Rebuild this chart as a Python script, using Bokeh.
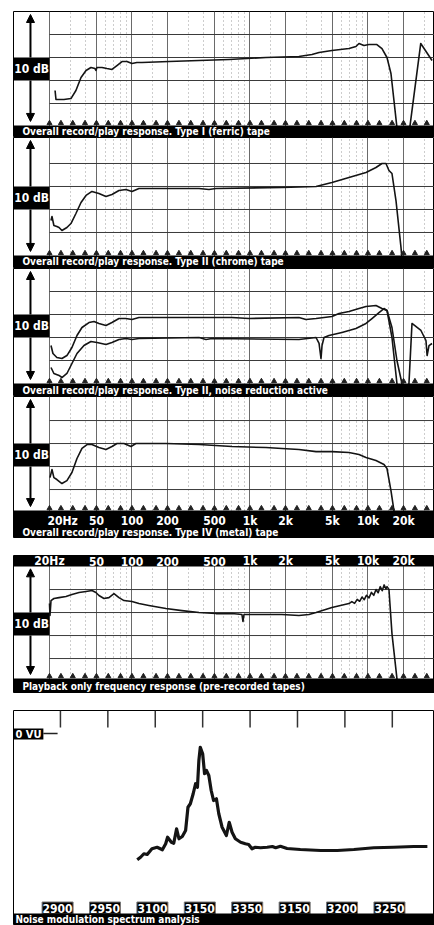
from bokeh.plotting import figure
from bokeh.models import (Range1d, Grid, FixedTicker, BoxAnnotation, Label, Arrow,
                          NormalHead, ColumnDataSource, Spacer)
from bokeh.layouts import column
from bokeh.transform import dodge
from bokeh.core.properties import value
from bokeh.embed import file_html
from bokeh.resources import INLINE

# ---------------- data ----------------
FREQ_TICKS = [20, 50, 100, 200, 500, 1000, 2000, 5000, 10000, 20000]
FREQ_LABELS = ["20Hz", "50", "100", "200", "500", "1k", "2k", "5k", "10k", "20k"]
FREQ_MINOR = [30, 40, 60, 70, 80, 90, 150, 300, 400, 600, 700, 800, 900, 1500,
              3000, 4000, 6000, 7000, 8000, 9000, 15000, 30000]
THIRD_OCTAVE = [20, 25, 31.5, 40, 50, 63, 80, 100, 125, 160, 200, 250, 315, 400, 500,
                630, 800, 1000, 1250, 1600, 2000, 2500, 3150, 4000, 5000, 6300, 8000,
                10000, 12500, 16000, 20000, 25000, 31500]
DB_GRID = [2, 0, -2, -4]
SCALE_LABEL = "10 dB"

CAPTIONS = [
    "Overall record/play response. Type I (ferric) tape",
    "Overall record/play response. Type II (chrome) tape",
    "Overall record/play response. Type II, noise reduction active",
    "Overall record/play response. Type IV (metal) tape",
    "Playback only frequency response (pre-recorded tapes)",
    "Noise modulation spectrum analysis",
]

# Type I (ferric)
f1 = [22.3, 22.7, 24.1, 26.5, 30.4, 33.5, 37.0, 40.8, 44.9, 48.6, 49.5, 50.5, 55.7, 61.4,
      67.7, 74.6, 82.3, 90.7, 100, 110, 121.5, 206, 370, 664, 1366, 2600, 3350, 3850, 4950,
      6900, 7910, 8390, 9250, 10190, 11900, 13140, 14490, 15660, 16600, 17600, 19800,
      22600, 28000, 34900]
db1 = [-2.87, -3.65, -3.65, -3.65, -3.57, -2.87, -1.74, -1.13, -0.87, -0.96, -1.13, -0.87,
       -0.87, -0.96, -1.04, -0.70, -0.35, -0.35, -0.52, -0.43, -0.43, -0.35, -0.26, -0.17,
       0.0, 0.09, 0.26, 0.43, 0.61, 0.78, 0.96, 1.22, 1.04, 1.13, 1.13, 0.78, 0.0, -1.39,
       -3.74, -6.1, -12.0, -6.1, 1.22, -0.26]

# Type II (chrome)
f2 = [20.6, 21.0, 21.8, 23.1, 24.1, 25.5, 28.1, 30.4, 33.5, 37.0, 40.8, 45.8, 52.5, 60.2,
      67.7, 77.6, 88.9, 100, 114.6, 370, 449, 515, 1867, 3630, 4950, 6900, 9620, 11690,
      13140, 14210, 15060, 15970, 17270, 19040, 19800, 21000]
db2 = [-2.96, -2.61, -3.39, -3.48, -3.57, -3.83, -3.57, -3.22, -2.35, -1.39, -0.78, -0.43,
       -0.61, -0.87, -0.70, -0.35, -0.26, -0.43, -0.17, -0.17, -0.26, -0.17, -0.09, 0.0,
       0.35, 0.78, 1.22, 1.65, 2.0, 2.0, 1.39, 1.13, -1.22, -5.3, -7.3, -12.0]

# Type II, noise reduction active (two traces)
f3a = [20.6, 21.4, 23.1, 25.5, 28.1, 31.0, 34.2, 37.7, 43.2, 47.7, 52.5, 60.2, 67.7, 77.6,
       88.9, 100, 114.6, 704, 981, 2600, 2980, 3630, 4950, 5680, 6900, 8390, 9620, 11690,
       13140, 14490, 15970, 17600, 19040, 20000]
db3a = [-2.70, -3.39, -3.74, -3.83, -3.57, -2.87, -1.83, -1.13, -0.70, -0.61, -0.78, -0.96,
        -0.70, -0.35, -0.35, -0.43, -0.26, -0.26, -0.35, -0.26, -0.43, -0.35, -0.17, 0.09,
        0.26, 0.52, 0.70, 0.78, 0.52, 0.35, -2.0, -6.0, -9.2, -12.0]
f3b = [20.6, 21.8, 24.1, 25.5, 28.1, 31.0, 34.2, 39.2, 44.9, 50.5, 60.2, 67.7, 77.6, 88.9,
       100, 114.6, 370, 424, 476, 2600, 3630, 3850, 4000, 4080, 4240, 4670, 6020, 7910,
       9620, 10810, 12400, 13670, 14490, 15970, 17600, 19400, 20600, 22250, 23600, 28100,
       31000, 31700, 32900, 34900]
db3b = [-4.61, -5.13, -5.30, -5.48, -5.13, -4.26, -3.39, -2.70, -2.35, -2.43, -2.61, -2.43,
        -2.17, -2.09, -2.17, -2.09, -2.0, -2.17, -2.09, -2.17, -2.0, -2.52, -3.83, -2.70,
        -2.0, -1.83, -1.57, -1.22, -0.78, -0.35, 0.17, 0.52, 0.35, -1.13, -4.0, -6.0, -9.2,
        -6.0, -0.78, -1.39, -2.26, -3.57, -2.70, -2.52]

# Type IV (metal)
f4 = [20.2, 21.0, 21.8, 23.1, 25.5, 28.1, 31.0, 34.2, 37.7, 41.6, 45.8, 52.5, 60.2, 67.7,
      74.6, 85.6, 98.1, 108, 194, 370, 704, 1366, 1867, 2600, 3630, 4950, 6900, 8390, 9620,
      11690, 13670, 14490, 15660, 16600, 17600, 19000]
db4 = [-2.96, -2.26, -2.96, -3.13, -3.48, -3.22, -2.52, -1.30, -0.43, -0.09, -0.09, -0.35,
       -0.52, -0.26, 0.0, 0.0, -0.26, 0.0, 0.0, -0.09, -0.26, -0.35, -0.43, -0.52, -0.70,
       -0.70, -0.78, -0.96, -1.22, -1.48, -1.83, -2.17, -4.09, -5.83, -8.4, -12.0]

# Playback only (pre-recorded tapes)
f5 = [20.0, 20.2, 20.6, 21.8, 24.1, 27.6, 31.0, 35.6, 40.8, 45.8, 49.5, 52.5, 57.9, 63.8,
      70.4, 77.6, 85.6, 100, 114.6, 139, 194, 265, 370, 515, 704, 855, 872, 890, 1366, 1867,
      2600, 3160, 3630, 4950, 6900, 7300, 7700, 8100, 8500, 8900, 9300, 9700, 10200, 10700,
      11200, 11700, 12200, 12700, 13200, 13700, 14200, 14500, 15060, 15970, 17600, 19040]
db5 = [0.78, -0.26, 1.04, 1.22, 1.30, 1.39, 1.57, 1.74, 1.83, 1.91, 1.74, 1.48, 1.22, 1.30,
       1.65, 1.30, 1.04, 0.96, 0.78, 0.61, 0.35, 0.17, 0.0, -0.09, -0.09, -0.17, -0.78,
       -0.17, -0.17, -0.17, -0.26, -0.17, 0.0, 0.43, 0.78, 0.95, 0.80, 1.15, 0.98, 1.35,
       1.12, 1.50, 1.28, 1.75, 1.50, 2.00, 1.72, 2.25, 1.90, 2.40, 2.05, 2.25, 2.0, -1.83,
       -5.74, -9.4]

# Noise modulation spectrum
NM_TICKS = [0, 1, 2, 3, 4, 5, 6, 7]
NM_LABELS = ["2900", "2950", "3100", "3150", "3350", "3150", "3200", "3250"]
NM_REF_LABEL = "0 VU"
NM_REF_DB = 0
nm_pos = [1.62, 1.69, 1.76, 1.83, 1.93, 2.04, 2.15, 2.22, 2.26, 2.34, 2.39, 2.45, 2.50,
          2.57, 2.64, 2.69, 2.74, 2.80, 2.85, 2.89, 2.92, 2.95, 3.00, 3.04, 3.08, 3.13,
          3.18, 3.23, 3.29, 3.34, 3.41, 3.50, 3.56, 3.62, 3.69, 3.80, 3.90, 3.97, 4.04,
          4.11, 4.22, 4.36, 4.47, 4.54, 4.64, 4.78, 5.06, 5.49, 5.84, 6.19, 6.61, 7.03,
          7.45, 7.74]
nm_db = [-50.5, -49.5, -48.1, -48.4, -46.1, -45.5, -46.5, -44.1, -41.5, -43.5, -43.9, -38.1,
         -42.1, -41.2, -38.8, -29.5, -28.1, -24.1, -20.1, -21.5, -10.8, -5.5, -8.1, -16.1,
         -14.8, -16.8, -22.8, -26.8, -26.1, -32.1, -37.5, -40.8, -35.5, -39.5, -42.1, -43.5,
         -44.1, -44.4, -46.1, -45.5, -45.7, -45.5, -45.2, -45.7, -45.1, -46.0, -46.4, -46.8,
         -46.8, -46.4, -45.7, -45.5, -45.2, -45.2]

# ---------------- styling / layout ----------------
W = 434
LEFT = 13
FONT = "'Liberation Sans Narrow', 'DejaVu Sans Condensed', 'Arial Narrow', sans-serif"
PX_DB = 11.5
X_LO, X_HI = 9.91, 36620.0
X_ARROW = 13.8
X_CAPTION = 11.8
INK = "#141414"
CAP_SIZE = "10px"


def white_label(p, x, y, text, size, align="left", x_offset=0):
    lab = Label(x=x, y=y, text=text, text_color="white", text_font=FONT,
                text_font_style="bold", text_font_size=size, text_align=align,
                text_baseline="middle", x_offset=x_offset, level="overlay")
    p.add_layout(lab)


def black_box(p, left, right, bottom, top):
    p.add_layout(BoxAnnotation(left=left, right=right, bottom=bottom, top=top,
                               fill_color="black", fill_alpha=1.0, line_alpha=0.0,
                               level="annotation"))


def freq_panel(height, top_db, caption, curves, border_top=0, cap_top=None,
               bottom_bar=None, top_bar=None):
    bottom_db = top_db - (height - border_top) / PX_DB
    p = figure(width=W, height=height, x_axis_type="log",
               x_range=Range1d(X_LO, X_HI), y_range=Range1d(bottom_db, top_db),
               x_axis_location=None, y_axis_location=None,
               toolbar_location=None, output_backend="svg",
               min_border=0, min_border_left=LEFT, min_border_top=border_top)
    p.grid.visible = False
    p.outline_line_color = "black"
    p.outline_line_width = 1
    p.background_fill_color = "white"
    p.border_fill_color = "white"

    p.add_layout(Grid(dimension=0,
                      ticker=FixedTicker(ticks=FREQ_TICKS, minor_ticks=FREQ_MINOR),
                      grid_line_color="#6a6a6a", grid_line_width=1,
                      minor_grid_line_color="#9a9a9a", minor_grid_line_dash="1 3"))
    n = len(DB_GRID)
    p.segment(x0=[FREQ_TICKS[0]] * n, x1=[X_HI * 10] * n, y0=DB_GRID, y1=DB_GRID,
              line_color="#3a3a3a", line_width=1)

    for fx, dy, lw in curves:
        p.line(fx, dy, line_color=INK, line_width=lw, line_join="round")

    low_edge = cap_top if cap_top is not None else bottom_bar[0]
    p.scatter(x=THIRD_OCTAVE, y=[low_edge + 0.2] * len(THIRD_OCTAVE), marker="triangle",
              size=5, color="#202020")

    if cap_top is not None:
        black_box(p, X_LO, X_HI, bottom_db, cap_top)
        white_label(p, X_CAPTION, (cap_top + bottom_db) / 2, caption, CAP_SIZE)
    if bottom_bar is not None:
        bar_top, lab_y, cap_y = bottom_bar
        black_box(p, X_LO, X_HI, bottom_db, bar_top)
        r = p.text(x=FREQ_TICKS[1:], y=[lab_y] * (len(FREQ_TICKS) - 1), text=FREQ_LABELS[1:],
                   text_color="white", text_font=value(FONT), text_font_style="bold",
                   text_font_size="12px", text_align="center", text_baseline="middle")
        r.level = "overlay"
        white_label(p, FREQ_TICKS[0], lab_y, FREQ_LABELS[0], "12px", align="left", x_offset=-2)
        white_label(p, X_CAPTION, cap_y, caption, CAP_SIZE)
    arrow_top = top_db - 0.26
    if top_bar is not None:
        bar_bottom, lab_y = top_bar
        black_box(p, X_LO, X_HI, bar_bottom, top_db)
        r = p.text(x=FREQ_TICKS, y=[lab_y] * len(FREQ_TICKS), text=FREQ_LABELS,
                   text_color="white", text_font=value(FONT), text_font_style="bold",
                   text_font_size="12px", text_align="center", text_baseline="middle")
        r.level = "overlay"
        arrow_top = bar_bottom - 0.2

    # left scale marker: "10 dB" box with arrows
    black_box(p, X_LO, FREQ_TICKS[0], DB_GRID[2], DB_GRID[1])
    white_label(p, (X_LO * FREQ_TICKS[0]) ** 0.5, (DB_GRID[1] + DB_GRID[2]) / 2,
                SCALE_LABEL, "12px", align="center")
    head = dict(size=8, fill_color="black", line_color="black")
    p.add_layout(Arrow(x_start=X_ARROW, y_start=DB_GRID[1], x_end=X_ARROW, y_end=arrow_top,
                       end=NormalHead(**head), line_width=2, line_color="black"))
    p.add_layout(Arrow(x_start=X_ARROW, y_start=DB_GRID[2], x_end=X_ARROW,
                       y_end=low_edge + 0.35, end=NormalHead(**head), line_width=2,
                       line_color="black"))
    return p


p1 = freq_panel(137, 4.0, CAPTIONS[0], [(f1, db1, 1.6)], border_top=11, cap_top=-5.91)
p2 = freq_panel(131, 4.26, CAPTIONS[1], [(f2, db2, 1.6)], cap_top=-6.0)
p3 = freq_panel(128, 4.0, CAPTIONS[2], [(f3a, db3a, 1.6), (f3b, db3b, 1.6)], cap_top=-6.0)
p4 = freq_panel(142, 4.09, CAPTIONS[3], [(f4, db4, 1.6)], bottom_bar=(-5.83, -6.72, -7.72))
p5 = freq_panel(138, 4.96, CAPTIONS[4], [(f5, db5, 1.6)], cap_top=-5.74, top_bar=(4.0, 4.48))

# ---------------- noise modulation panel ----------------
NM_TOP, NM_BOTTOM = 9.2, -76.8
NM_X0, NM_X1 = -0.99, 7.89
p6 = figure(width=W, height=215, x_range=Range1d(NM_X0, NM_X1),
            y_range=Range1d(NM_BOTTOM, NM_TOP), x_axis_location=None, y_axis_location=None,
            toolbar_location=None, output_backend="svg", min_border=0, min_border_left=LEFT)
p6.grid.visible = False
p6.outline_line_color = "black"
p6.background_fill_color = "white"
p6.border_fill_color = "white"

nt = len(NM_TICKS)
p6.segment(x0=NM_TICKS, x1=NM_TICKS, y0=[NM_TOP] * nt, y1=[2.4] * nt,
           line_color="#333333", line_width=1.5)

black_box(p6, NM_X0, -0.36, NM_REF_DB - 2.4, NM_REF_DB + 2.0)
white_label(p6, -0.675, NM_REF_DB - 0.2, NM_REF_LABEL, "11px", align="center")
p6.segment(x0=[-0.36], x1=[-0.06], y0=[NM_REF_DB], y1=[NM_REF_DB], line_color="#222222",
           line_width=1.5)

p6.line(nm_pos, nm_db, line_color=INK, line_width=3.2, line_join="round")

src = ColumnDataSource(dict(x=NM_TICKS, y=[-69.8] * nt, t=NM_LABELS))
p6.rect(x=dodge("x", -0.06, range=p6.x_range), y="y", width=31, height=12,
        width_units="screen", height_units="screen", source=src,
        fill_color="black", line_color="#777777")
p6.text(x=dodge("x", -0.06, range=p6.x_range), y="y", text="t", source=src,
        text_color="white", text_font=value(FONT), text_font_style="bold",
        text_font_size="12px", text_align="center", text_baseline="middle")

black_box(p6, NM_X0, NM_X1, NM_BOTTOM, -72.0)
white_label(p6, -0.95, -74.4, CAPTIONS[5], CAP_SIZE)

layout = column(p1, p2, p3, p4, Spacer(width=W, height=17), p5, Spacer(width=W, height=17), p6,
                spacing=0)

open("out.html", "w").write(file_html(layout, INLINE))
